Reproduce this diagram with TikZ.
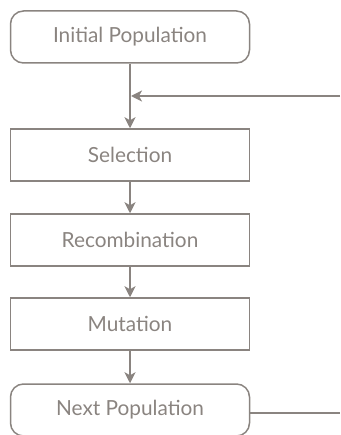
\documentclass[tikz,border=0pt]{standalone}
\usepackage{xcolor}
\usepackage{tikz}
\usepackage{fontspec}
\setmainfont{Lato}
\usetikzlibrary{arrows.meta}
\definecolor{flowgrey}{RGB}{138,132,128}

\begin{document}
\begin{tikzpicture}[x=1pt,y=-1pt,
  stagebox/.style={draw=flowgrey,line width=1.5pt,minimum width=239pt,minimum height=52pt,text=flowgrey,font=\fontsize{20.8}{24}\selectfont},
  popbox/.style={stagebox,rounded corners=13pt},
  flow/.style={draw=flowgrey,line width=1.5pt,-{Stealth[length=11pt,width=11pt,inset=3pt]}}]
\useasboundingbox (0,0) rectangle (340,435);
\node [popbox] (init) at (130,37) {Initial Population};
\node [stagebox] (sel) at (130,155) {Selection};
\node [stagebox] (rec) at (130,240) {Recombination};
\node [stagebox] (mut) at (130,324) {Mutation};
\node [popbox] (next) at (130,410) {Next Population};
\coordinate (join) at (130,96);
\coordinate (loopin) at (340,96);
\coordinate (loopout) at (340,413);
\draw [flow] (init) -- (sel);
\draw [flow] (sel) -- (rec);
\draw [flow] (rec) -- (mut);
\draw [flow] (mut) -- (next);
\draw [flow] (loopin) -- ([xshift=1pt]join);
\draw [draw=flowgrey,line width=1.5pt] (next.east |- loopout) -- (loopout);
\end{tikzpicture}
\end{document}
